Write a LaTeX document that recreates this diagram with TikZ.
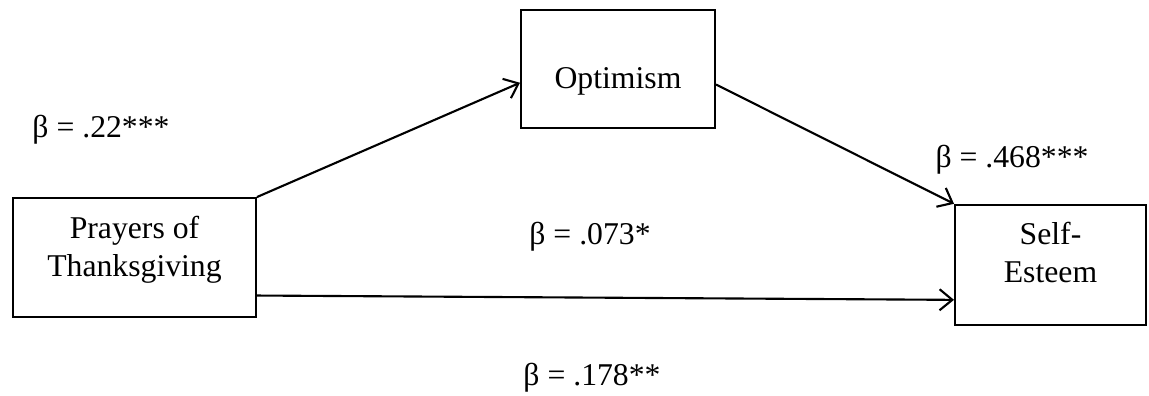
\documentclass[tikz,border=0pt]{standalone}
\usepackage{fontspec}
\setmainfont{Liberation Serif}
\usepackage{tikz}
\usetikzlibrary{
  arrows.meta,
  positioning
}
\definecolor{boxcolor}{RGB}{0, 0, 0}
\definecolor{arrowcolor}{RGB}{0, 0, 0}
\definecolor{labelcolor}{RGB}{0, 0, 0}
\tikzset{
termtext/.style={
  align=center,
  font=\fontsize{12}{14.5}\selectfont,
  text=labelcolor,
  inner sep=0pt
},
termbox/.style={
  draw=boxcolor,
  rectangle,
  line width=0.8pt,
  inner sep=0pt
},
betalabel/.style={
  font=\fontsize{12}{14.5}\selectfont,
  text=labelcolor,
  inner sep=0pt
},
patharrow/.style={
  -{Straight Barb[length=1.7mm,width=2.8mm]},
  line width=0.8pt,
  draw=arrowcolor
}
}
\begin{document}
\begin{tikzpicture}[x=0.0133cm, y=-0.0133cm]

\useasboundingbox (0,0) rectangle (1149,396);

% ============================================================================
% Boxes
% ============================================================================
\node[termbox, minimum width=3.23cm, minimum height=1.58cm] (prayers) at (134.5, 257.5) {};
\node[termbox, minimum width=2.58cm, minimum height=1.57cm] (optimism) at (618, 69) {};
\node[termbox, minimum width=2.54cm, minimum height=1.60cm] (esteem) at (1050.5, 265) {};

% ============================================================================
% Box texts
% ============================================================================
\node[termtext] (prayerstext) at (134.5, 250) {Prayers of\\Thanksgiving};
\node[termtext] (optimismtext) at (618, 81) {Optimism};
\node[termtext] (esteemtext) at (1050.5, 252.5) {Self-\\Esteem};

% ============================================================================
% Paths
% ============================================================================
\draw[patharrow] (prayers.north east) -- (optimism.188);
\draw[patharrow] (optimism.-9) -- (esteem.north west);
\draw[patharrow] ([yshift=-14.4pt]prayers.east) -- ([yshift=-13.2pt]esteem.west);

% ============================================================================
% Coefficients
% ============================================================================
\node[betalabel] (b_prayopt) at (101, 130) {β = .22***};
\node[betalabel] (b_optest) at (1012, 160) {β = .468***};
\node[betalabel] (b_indirect) at (590, 237) {β = .073*};
\node[betalabel] (b_direct) at (592, 378) {β = .178**};

\end{tikzpicture}
\end{document}
